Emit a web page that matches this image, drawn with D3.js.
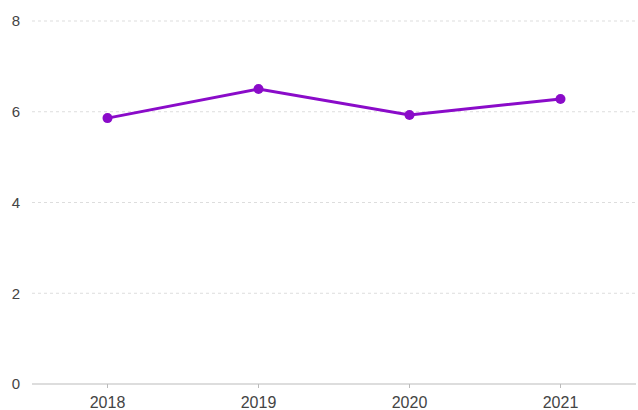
<!DOCTYPE html>
<html>
<head>
<meta charset="utf-8">
<script src="https://cdn.jsdelivr.net/npm/d3@7"></script>
<style>
  body { margin: 0; background: #fff; }
  text { font-family: Arial, "Liberation Sans", sans-serif; }
</style>
</head>
<body>
<div id="chart"></div>
<script>
const years = ["2018", "2019", "2020", "2021"];
const values = [5.86, 6.5, 5.93, 6.28];
const yTicks = [0, 2, 4, 6, 8];

const width = 638, height = 410;
const margin = { top: 21, right: 2, bottom: 26, left: 32 };

const svg = d3.select("#chart")
    .append("svg")
    .attr("width", width)
    .attr("height", height);

const x = d3.scalePoint()
    .domain(years)
    .range([margin.left, width - margin.right])
    .padding(0.5);

const y = d3.scaleLinear()
    .domain([0, 8])
    .range([height - margin.bottom, margin.top]);

// gridlines
svg.selectAll(".grid")
    .data(yTicks.filter(d => d > 0))
    .join("line")
    .attr("class", "grid")
    .attr("x1", margin.left)
    .attr("x2", width - margin.right)
    .attr("y1", d => y(d))
    .attr("y2", d => y(d))
    .attr("stroke", "#ddd")
    .attr("stroke-dasharray", "3,3");

// y labels
svg.selectAll(".ylab")
    .data(yTicks)
    .join("text")
    .attr("class", "ylab")
    .attr("x", 20)
    .attr("y", d => y(d))
    .attr("dy", "0.35em")
    .attr("text-anchor", "end")
    .attr("font-size", 15)
    .attr("fill", "#444")
    .text(d => d);

// baseline
svg.append("line")
    .attr("x1", margin.left)
    .attr("x2", width - margin.right)
    .attr("y1", y(0))
    .attr("y2", y(0))
    .attr("stroke", "#bbb");

// x ticks
svg.selectAll(".xtick")
    .data(years)
    .join("line")
    .attr("class", "xtick")
    .attr("x1", d => x(d))
    .attr("x2", d => x(d))
    .attr("y1", y(0))
    .attr("y2", y(0) + 4)
    .attr("stroke", "#bbb");

svg.selectAll(".xlab")
    .data(years)
    .join("text")
    .attr("class", "xlab")
    .attr("x", d => x(d))
    .attr("y", height - 2)
    .attr("text-anchor", "middle")
    .attr("font-size", 16)
    .attr("fill", "#444")
    .text(d => d);

// line
const line = d3.line()
    .x((d, i) => x(years[i]))
    .y(d => y(d));

svg.append("path")
    .datum(values)
    .attr("d", line)
    .attr("fill", "none")
    .attr("stroke", "#8a0bc9")
    .attr("stroke-width", 3);

svg.selectAll(".dot")
    .data(values)
    .join("circle")
    .attr("class", "dot")
    .attr("cx", (d, i) => x(years[i]))
    .attr("cy", d => y(d))
    .attr("r", 5)
    .attr("fill", "#8a0bc9");
</script>
</body>
</html>
